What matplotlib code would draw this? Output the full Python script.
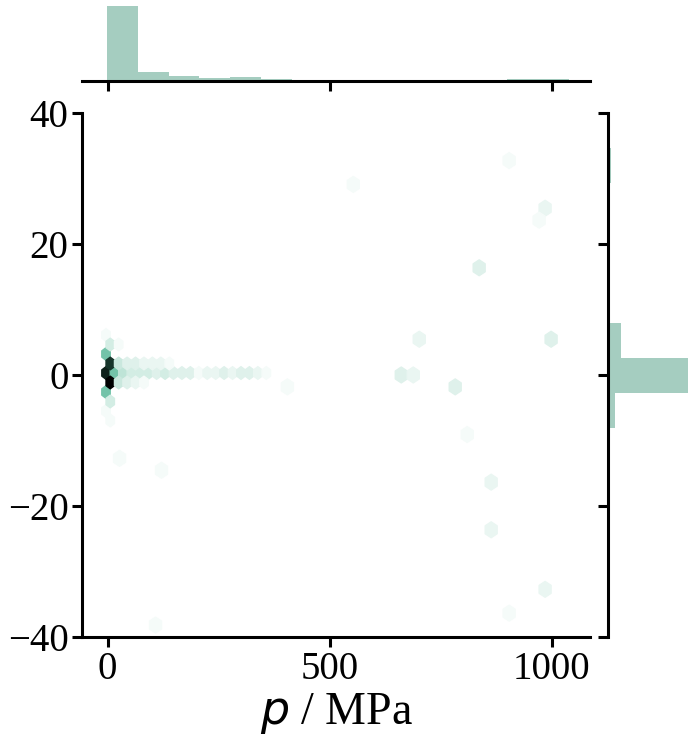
import colorsys

import matplotlib
matplotlib.use("Agg")
import matplotlib.pyplot as plt
import numpy as np
from matplotlib.colors import LinearSegmentedColormap, Normalize

plt.rcParams['font.family'] = 'serif'
plt.rcParams['font.serif'] = ['Liberation Serif', 'DejaVu Serif']
plt.rcParams['mathtext.fontset'] = 'dejavusans'

# dense hexbin cells near p = 0 (centres, counts)
near_x = [-3.5, -3.5, -3.5, -3.5, -3.5,
          6, 6, 6, 6, 6,
          15.5, 34.5, 53.5, 72.5, 91.5, 110.5, 129.5, 148.5, 167.5, 186.5,
          205.5, 224.5, 243.5, 262.5, 281.5, 300.5, 319.5, 338.5, 357.5,
          25, 44, 63, 82, 101, 120, 139,
          25, 44, 63, 82,
          25]
near_y = [6.1, 3.2, 0.3, -2.6, -5.5,
          4.65, 1.75, -1.15, -4.05, -6.95,
          0.3, 0.3, 0.3, 0.3, 0.3, 0.3, 0.3, 0.3, 0.3, 0.3,
          0.3, 0.3, 0.3, 0.3, 0.3, 0.3, 0.3, 0.3, 0.3,
          1.75, 1.75, 1.75, 1.75, 1.75, 1.75, 1.75,
          -1.15, -1.15, -1.15, -1.15,
          4.65]
near_n = [1, 13, 30, 13, 1,
          4, 28, 33, 4, 1,
          13, 6, 4, 4, 4, 3, 4, 3, 3, 3,
          1, 2, 2, 3, 2, 3, 3, 2, 1,
          5, 3, 3, 2, 2, 2, 1,
          5, 3, 2, 1,
          1]

# sparse cells spread over the whole range
far_x = [559, 916, 982, 971, 837, 699, 1011, 663, 690, 792, 407,
         802, 864, 864, 984, 907, 28, 118, 113]
far_y = [30.0, 32.7, 25.8, 22.6, 16.0, 5.5, 5.2, -0.1, -0.1, -1.8, -1.5,
         -9.3, -15.9, -24.0, -33.1, -37.1, -12.7, -14.2, -38.2]
far_n = [1, 1, 2, 1, 3, 2, 3, 3, 2, 3, 1,
         1, 2, 2, 2, 1, 1, 1, 1]

# marginal histograms
p_edges = [-1 + 69.3 * k for k in range(16)]
p_counts = [1000, 120, 63, 36, 50, 23, 0, 0, 0, 0, 0, 0, 0, 23, 23]
s_edges = [2.6 + 5.35 * k for k in range(-8, 8)]
s_counts = [22, 22, 0, 0, 0, 0, 84, 1000, 160, 0, 0, 0, 22, 28, 22]

base = "#4CB391"
h, l, s = colorsys.rgb_to_hls(*matplotlib.colors.to_rgb(base))
cmap = LinearSegmentedColormap.from_list(
    "hexc", [colorsys.hls_to_rgb(h, li, s) for li in np.linspace(1, 0, 12)])
norm = Normalize(0, 33)
hist_color = "#a5cdc0"

fig = plt.figure(figsize=(6.99, 7.5), dpi=100)
ax = fig.add_axes([0.118, 0.1507, 0.726, 0.6987])
ax_top = fig.add_axes([0.118, 0.8924, 0.726, 0.1045], sharex=ax)
ax_right = fig.add_axes([0.8705, 0.1507, 0.1202, 0.6987], sharey=ax)

ax.hexbin(far_x, far_y, C=far_n, reduce_C_function=np.sum,
          gridsize=(40, 22), extent=(13.5, 1093.5, -40, 40),
          cmap=cmap, norm=norm)
ax.hexbin(near_x, near_y, C=near_n, reduce_C_function=np.sum,
          gridsize=(20, 8), extent=(-3.5, 376.5, -11.3, 11.9),
          cmap=cmap, norm=norm)

ax_top.bar(p_edges[:-1], p_counts, width=np.diff(p_edges), align='edge',
           color=hist_color, linewidth=0)
ax_right.barh(s_edges[:-1], s_counts, height=np.diff(s_edges), align='edge',
              color=hist_color, linewidth=0)

ax.set_xlim(-56.5, 1086.5)
ax.set_ylim(-40, 40)
ax.set_xticks([0, 500, 1000])
ax.set_yticks([-40, -20, 0, 20, 40])
ax.set_xlabel('$p$ / MPa', fontsize=33, labelpad=2)

ax_top.set_ylim(0, max(p_counts) * 1.05)
ax_right.set_xlim(0, max(s_counts) * 1.05)

for a in (ax, ax_top, ax_right):
    for sp in a.spines.values():
        sp.set_linewidth(2.2)
    a.tick_params(width=2.2, length=7, labelsize=28, pad=3)

ax.spines[['top', 'right']].set_visible(False)
ax_top.spines[['top', 'left', 'right']].set_visible(False)
ax_right.spines[['top', 'bottom', 'right']].set_visible(False)
ax_top.tick_params(labelbottom=False, left=False, labelleft=False)
ax_right.tick_params(labelleft=False, bottom=False, labelbottom=False)

fig.savefig("out.png", dpi=100)
